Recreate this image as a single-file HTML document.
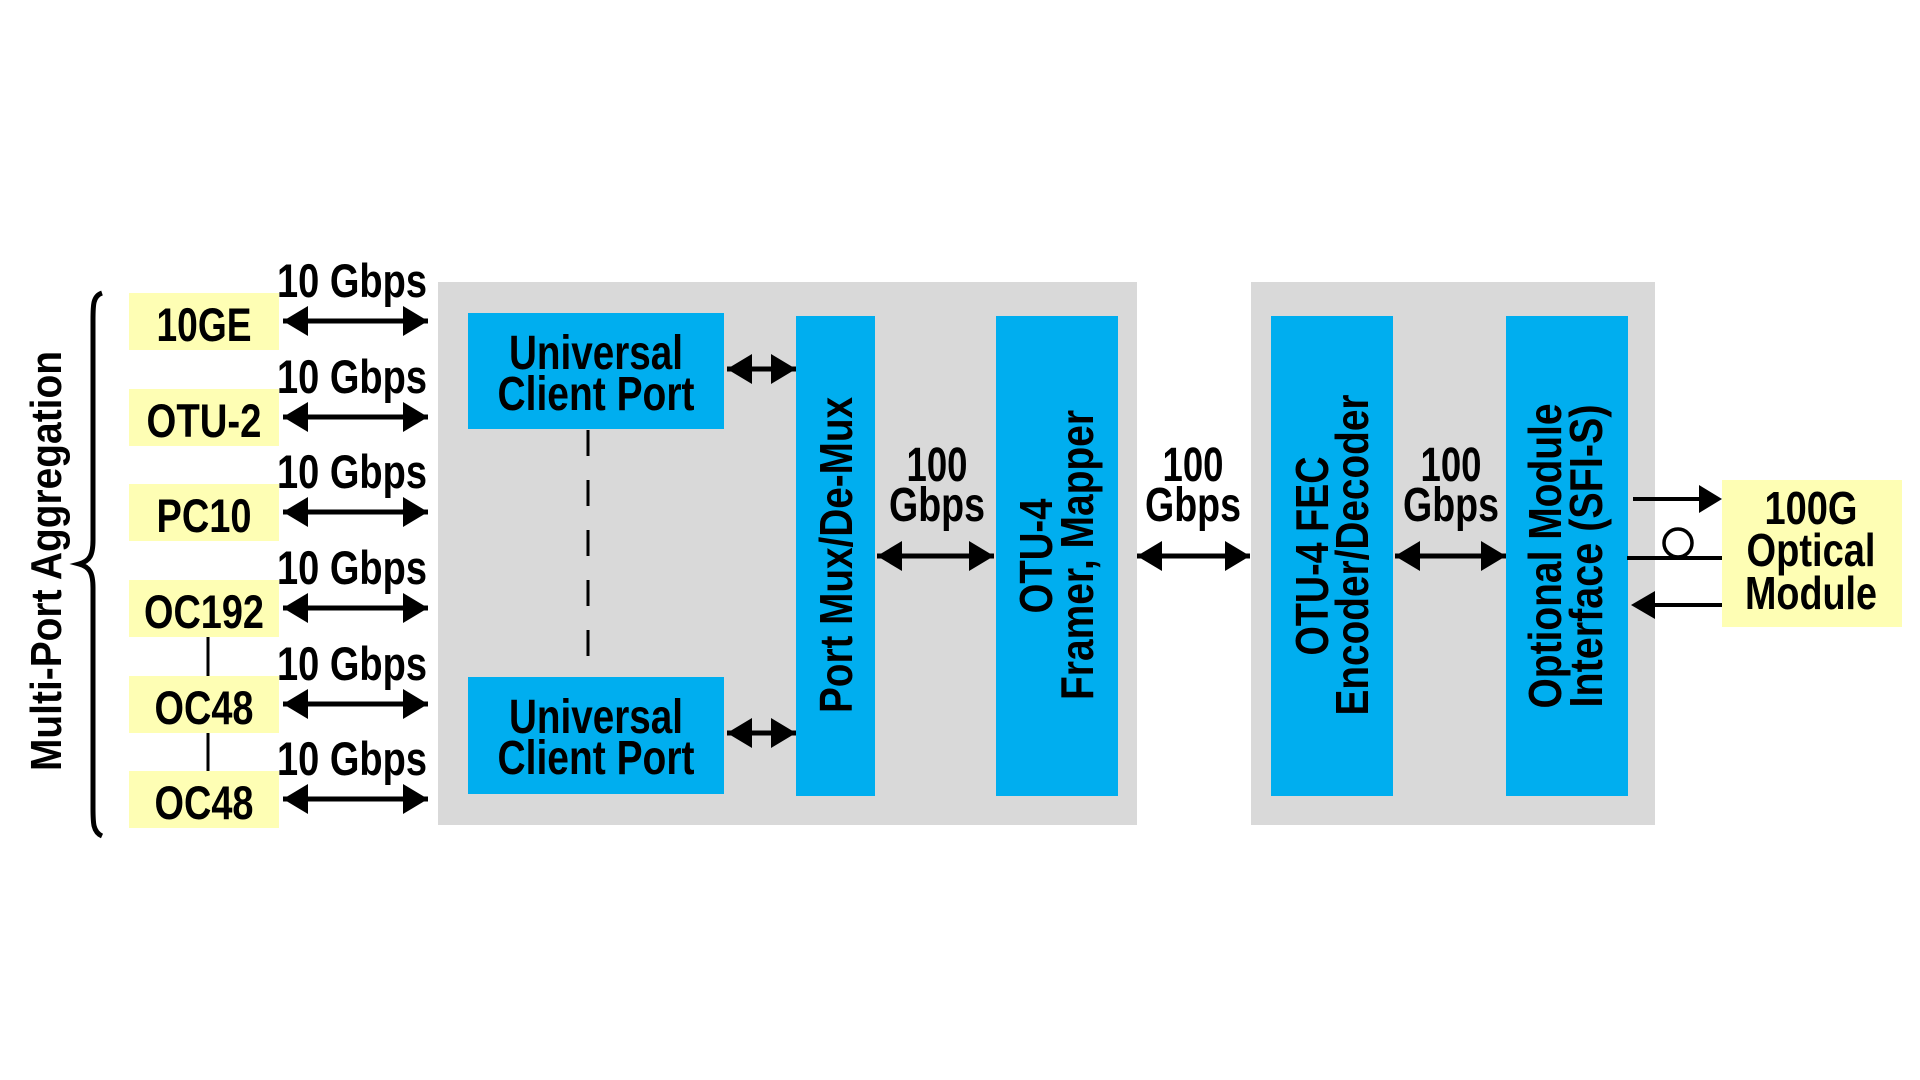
<!DOCTYPE html>
<html><head><meta charset="utf-8"><style>
html,body{margin:0;padding:0;background:#fff;}
svg{display:block;}
text{font-family:"Liberation Sans",Arial,sans-serif;font-weight:bold;fill:#000;}
</style></head><body>
<svg width="1920" height="1080" viewBox="0 0 1920 1080" xmlns="http://www.w3.org/2000/svg">
<defs>
<marker id="ah" viewBox="0 0 10 10" refX="10" refY="5" markerWidth="5" markerHeight="6" markerUnits="strokeWidth" orient="auto-start-reverse" preserveAspectRatio="none">
<path d="M0,0 L10,5 L0,10 z" fill="#000"/></marker>
</defs>
<rect x="438" y="282" width="699" height="543" fill="#d9d9d9"/>
<rect x="1251" y="282" width="404" height="543" fill="#d9d9d9"/>
<path d="M102,293 C93,296 93,305 93,320 L93,540 C93,555 90,561 79,564 C90,567 93,573 93,588 L93,808 C93,823 93,832 102,836" fill="none" stroke="#000" stroke-width="5"/>
<text transform="translate(61,561) rotate(-90)" text-anchor="middle" font-size="44" textLength="420" lengthAdjust="spacingAndGlyphs">Multi-Port Aggregation</text>
<g fill="#fefeb4">
<rect x="129" y="293" width="150" height="57"/>
<rect x="129" y="389" width="150" height="57"/>
<rect x="129" y="484" width="150" height="57"/>
<rect x="129" y="580" width="150" height="57"/>
<rect x="129" y="676" width="150" height="57"/>
<rect x="129" y="771" width="150" height="57"/>
<rect x="1722" y="480" width="180" height="147"/>
</g>
<line x1="208" y1="637" x2="208" y2="676" stroke="#000" stroke-width="3"/>
<line x1="208" y1="733" x2="208" y2="771" stroke="#000" stroke-width="3"/>
<g font-size="47" text-anchor="middle">
<text x="204" y="341" textLength="95" lengthAdjust="spacingAndGlyphs">10GE</text>
<text x="204" y="437" textLength="115" lengthAdjust="spacingAndGlyphs">OTU-2</text>
<text x="204" y="532" textLength="95" lengthAdjust="spacingAndGlyphs">PC10</text>
<text x="204" y="628" textLength="120" lengthAdjust="spacingAndGlyphs">OC192</text>
<text x="204" y="724" textLength="99" lengthAdjust="spacingAndGlyphs">OC48</text>
<text x="204" y="819" textLength="99" lengthAdjust="spacingAndGlyphs">OC48</text>
</g>
<g font-size="47" text-anchor="middle">
<text x="352" y="297" textLength="150" lengthAdjust="spacingAndGlyphs">10 Gbps</text>
<text x="352" y="393" textLength="150" lengthAdjust="spacingAndGlyphs">10 Gbps</text>
<text x="352" y="488" textLength="150" lengthAdjust="spacingAndGlyphs">10 Gbps</text>
<text x="352" y="584" textLength="150" lengthAdjust="spacingAndGlyphs">10 Gbps</text>
<text x="352" y="680" textLength="150" lengthAdjust="spacingAndGlyphs">10 Gbps</text>
<text x="352" y="775" textLength="150" lengthAdjust="spacingAndGlyphs">10 Gbps</text>
</g>
<g stroke="#000" stroke-width="5" marker-start="url(#ah)" marker-end="url(#ah)">
<line x1="283" y1="321" x2="428" y2="321"/>
<line x1="283" y1="417" x2="428" y2="417"/>
<line x1="283" y1="512" x2="428" y2="512"/>
<line x1="283" y1="608" x2="428" y2="608"/>
<line x1="283" y1="704" x2="428" y2="704"/>
<line x1="283" y1="799" x2="428" y2="799"/>
<line x1="727" y1="369" x2="796" y2="369"/>
<line x1="727" y1="733" x2="796" y2="733"/>
<line x1="877" y1="556" x2="994" y2="556"/>
<line x1="1137" y1="556" x2="1250" y2="556"/>
<line x1="1395" y1="556" x2="1506" y2="556"/>
</g>
<g fill="#00aeef">
<rect x="468" y="313" width="256" height="116"/>
<rect x="468" y="677" width="256" height="117"/>
<rect x="796" y="316" width="79" height="480"/>
<rect x="996" y="316" width="122" height="480"/>
<rect x="1271" y="316" width="122" height="480"/>
<rect x="1506" y="316" width="122" height="480"/>
</g>
<line x1="588" y1="430" x2="588" y2="660" stroke="#000" stroke-width="3" stroke-dasharray="26,24"/>
<g font-size="48" text-anchor="middle">
<text x="596" y="369" textLength="174" lengthAdjust="spacingAndGlyphs">Universal</text>
<text x="596" y="410" textLength="197" lengthAdjust="spacingAndGlyphs">Client Port</text>
<text x="596" y="733" textLength="174" lengthAdjust="spacingAndGlyphs">Universal</text>
<text x="596" y="774" textLength="197" lengthAdjust="spacingAndGlyphs">Client Port</text>
<text x="937" y="481" textLength="61" lengthAdjust="spacingAndGlyphs">100</text>
<text x="937" y="521" textLength="96" lengthAdjust="spacingAndGlyphs">Gbps</text>
<text x="1193" y="481" textLength="61" lengthAdjust="spacingAndGlyphs">100</text>
<text x="1193" y="521" textLength="96" lengthAdjust="spacingAndGlyphs">Gbps</text>
<text x="1451" y="481" textLength="61" lengthAdjust="spacingAndGlyphs">100</text>
<text x="1451" y="521" textLength="96" lengthAdjust="spacingAndGlyphs">Gbps</text>
</g>
<g font-size="46" text-anchor="middle">
<text transform="translate(852,555) rotate(-90)" textLength="316" lengthAdjust="spacingAndGlyphs">Port Mux/De-Mux</text>
<text transform="translate(1052,556) rotate(-90)" textLength="115" lengthAdjust="spacingAndGlyphs">OTU-4</text>
<text transform="translate(1093,555) rotate(-90)" textLength="290" lengthAdjust="spacingAndGlyphs">Framer, Mapper</text>
<text transform="translate(1328,556) rotate(-90)" textLength="199" lengthAdjust="spacingAndGlyphs">OTU-4 FEC</text>
<text transform="translate(1368,555) rotate(-90)" textLength="321" lengthAdjust="spacingAndGlyphs">Encoder/Decoder</text>
<text transform="translate(1561,556) rotate(-90)" textLength="305" lengthAdjust="spacingAndGlyphs">Optional Module</text>
<text transform="translate(1602,556) rotate(-90)" textLength="303" lengthAdjust="spacingAndGlyphs">Interface (SFI-S)</text>
</g>
<g stroke="#000" stroke-width="4">
<line x1="1633" y1="499" x2="1700" y2="499"/>
<line x1="1627" y1="558" x2="1722" y2="558"/>
<line x1="1722" y1="605" x2="1655" y2="605"/>
</g>
<path d="M1699,485 L1722,499 L1699,513 z" fill="#000"/>
<path d="M1655,591 L1631,605 L1655,619 z" fill="#000"/>
<circle cx="1678" cy="543" r="14" fill="none" stroke="#000" stroke-width="3.5"/>
<g font-size="46" text-anchor="middle">
<text x="1811" y="524" textLength="93" lengthAdjust="spacingAndGlyphs">100G</text>
<text x="1811" y="566" textLength="129" lengthAdjust="spacingAndGlyphs">Optical</text>
<text x="1811" y="609" textLength="132" lengthAdjust="spacingAndGlyphs">Module</text>
</g>
</svg>
</body></html>
